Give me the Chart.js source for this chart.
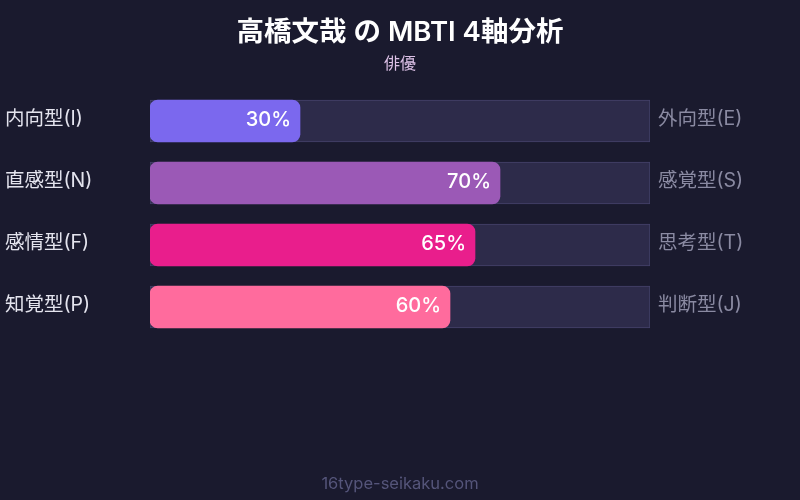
<!DOCTYPE html>
<html>
<head>
<meta charset="utf-8">
<script src="https://cdn.jsdelivr.net/npm/chart.js@4/dist/chart.umd.min.js"></script>
<style>
  html, body { margin: 0; padding: 0; background: #1a1a2e; }
  #wrap { width: 800px; height: 500px; }
</style>
</head>
<body>
<div id="wrap"><canvas id="mbti-chart"></canvas></div>
<script>
var titleText = '高橋文哉 の MBTI 4軸分析';
var subtitleText = '俳優';
var footerText = '16type-seikaku.com';

var leftLabels = ['内向型(I)', '直感型(N)', '感情型(F)', '知覚型(P)'];
var rightLabels = ['外向型(E)', '感覚型(S)', '思考型(T)', '判断型(J)'];
var scores = [30, 70, 65, 60];
var trackValues = [100, 100, 100, 100];
var barColors = ['#7b68ee', '#9b59b6', '#e91e8c', '#ff6b9d'];

var FONT = "Inter, 'Noto Sans CJK JP', sans-serif";

// title, subtitle, footer and % labels
var textPlugin = {
  id: 'textPlugin',
  afterDatasetsDraw(chart) {
    var ctx = chart.ctx;
    ctx.save();
    ctx.textAlign = 'center';
    ctx.textBaseline = 'middle';
    ctx.fillStyle = '#ffffff';
    ctx.font = "600 27.5px " + FONT;
    ctx.fillText(titleText, 400, 33);
    ctx.fillStyle = '#dcc0e6';
    ctx.font = "16px " + FONT;
    ctx.fillText(subtitleText, 400, 64);
    ctx.fillStyle = '#55557a';
    ctx.font = "16.5px " + FONT;
    ctx.fillText(footerText, 400, 484);

    var meta = chart.getDatasetMeta(1);
    ctx.textAlign = 'right';
    ctx.fillStyle = '#ffffff';
    ctx.font = "500 20px " + FONT;
    meta.data.forEach(function(bar, i) {
      ctx.fillText(scores[i] + '%', bar.x - 9, bar.y - 1);
    });
    ctx.restore();
  }
};

new Chart(document.getElementById('mbti-chart'), {
  type: 'bar',
  data: {
    labels: leftLabels,
    datasets: [
      {
        label: 'track',
        data: trackValues,
        backgroundColor: '#2d2b4a',
        borderColor: '#44426a',
        borderWidth: 1,
        borderSkipped: false,
        barThickness: 42,
        order: 2
      },
      {
        label: 'score',
        data: scores,
        backgroundColor: barColors,
        borderWidth: 0,
        borderRadius: 8,
        borderSkipped: false,
        barThickness: 42,
        order: 1
      }
    ]
  },
  options: {
    indexAxis: 'y',
    responsive: true,
    maintainAspectRatio: false,
    animation: false,
    grouped: false,
    layout: { padding: { left: 5, right: 0, top: 90, bottom: 162 } },
    plugins: {
      legend: { display: false },
      tooltip: { enabled: false },
      title: { display: false }
    },
    scales: {
      x: { display: false, min: 0, max: 100 },
      y: {
        position: 'left',
        grid: { display: false },
        border: { display: false },
        ticks: {
          color: '#e4e4ee',
          font: { family: FONT, size: 19.5 },
          crossAlign: 'far',
          labelOffset: -2,
          padding: 8
        },
        afterFit: function(scale) { scale.width = 145; }
      },
      y2: {
        type: 'category',
        labels: rightLabels,
        position: 'right',
        offset: true,
        grid: { display: false },
        border: { display: false },
        ticks: {
          color: '#8a8aa2',
          font: { family: FONT, size: 19.5 },
          crossAlign: 'near',
          labelOffset: -2,
          padding: 0
        },
        afterFit: function(scale) { scale.width = 150; }
      }
    }
  },
  plugins: [textPlugin]
});
</script>
</body>
</html>
